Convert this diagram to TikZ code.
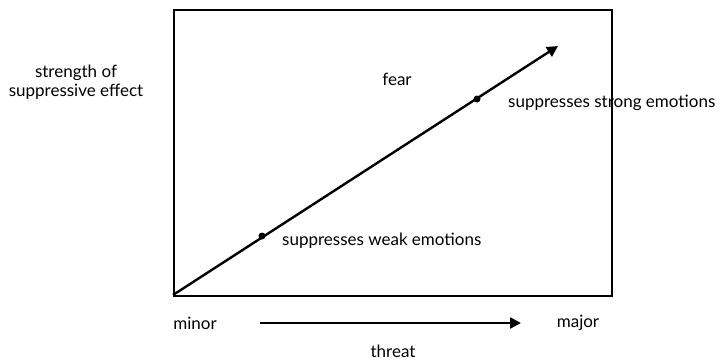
\documentclass[tikz,border=0pt]{standalone}
\usepackage{fontspec}
\setmainfont{Lato}
\usetikzlibrary{arrows.meta}
\begin{document}
\begin{tikzpicture}[x=1pt,y=-1pt,
  lbl/.style={font=\fontsize{17}{19}\selectfont, inner sep=0pt},
  dot/.style={circle, fill=black, minimum size=7pt, inner sep=0pt},
  arr/.style={line width=2.4pt, -{Triangle[length=11pt,width=11pt]}}]
\useasboundingbox (0,0) rectangle (722,360);
\node[draw, line width=2pt, minimum width=438pt, minimum height=286pt, inner sep=0pt, anchor=north west] (box) at (173,9) {};
\coordinate (o) at (173,295);
\coordinate (tip) at (558,46);
\node[dot] (d1) at (262,236) {};
\node[dot] (d2) at (477,99) {};
\draw[arr] (o) -- (tip);
\node[lbl] (fear) at (397,79) {fear};
\node[lbl, anchor=west] (strong) at (508,103) {suppresses strong emotions};
\node[lbl, anchor=west] (weak) at (282,241) {suppresses weak emotions};
\node[lbl, align=center] (ylab) at (76,82) {strength of\\suppressive effect};
\node[lbl] (minor) at (195,323) {minor};
\node[lbl] (major) at (578,323) {major};
\coordinate (a1) at (260,323);
\coordinate (a2) at (521,323);
\draw[arr] (a1) -- (a2);
\node[lbl] (threat) at (393,351) {threat};
\end{tikzpicture}
\end{document}
